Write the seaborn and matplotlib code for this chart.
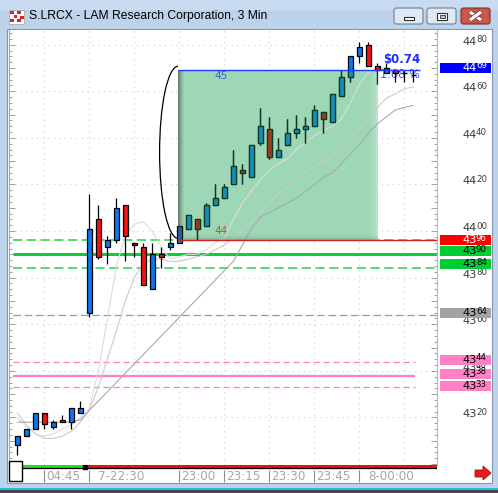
import numpy as np
import pandas as pd
import matplotlib
matplotlib.use("Agg")
import matplotlib.pyplot as plt
import matplotlib.patches as mpatches
import matplotlib.patheffects as pe
import matplotlib.transforms as mtransforms
from matplotlib.ticker import MultipleLocator
import seaborn as sns

# ---- S.LRCX 3 min bars ----
opens = [43.08, 43.12, 43.15, 43.22, 43.16, 43.18, 43.18, 43.22, 43.65, 44.05,
         43.93, 43.96, 44.11, 43.95, 43.93, 43.75, 43.90, 43.93, 43.95, 44.01,
         44.05, 44.02, 44.11, 44.14, 44.20, 44.26, 44.23, 44.38, 44.44, 44.32,
         44.37, 44.42, 44.44, 44.45, 44.51, 44.47, 44.58, 44.66, 44.75, 44.80,
         44.71, 44.68, 44.69, 44.68, 44.67]
highs = [43.12, 43.15, 43.22, 43.22, 43.19, 43.21, 43.24, 43.27, 44.16, 44.11,
         43.98, 44.14, 44.11, 43.95, 43.95, 43.95, 43.93, 43.99, 44.02, 44.07,
         44.05, 44.12, 44.20, 44.20, 44.35, 44.29, 44.37, 44.53, 44.49, 44.40,
         44.48, 44.50, 44.49, 44.54, 44.51, 44.59, 44.69, 44.75, 44.81, 44.81,
         44.72, 44.72, 44.69, 44.69, 44.69]
lows = [43.04, 43.12, 43.15, 43.15, 43.15, 43.18, 43.15, 43.22, 43.63, 43.88,
        43.86, 43.95, 43.87, 43.89, 43.77, 43.75, 43.84, 43.92, 43.95, 44.01,
        43.96, 44.02, 44.11, 44.14, 44.20, 44.20, 44.23, 44.37, 44.31, 44.32,
        44.37, 44.40, 44.38, 44.45, 44.42, 44.47, 44.58, 44.64, 44.72, 44.71,
        44.63, 44.68, 44.64, 44.64, 44.64]
closes = [43.12, 43.15, 43.22, 43.17, 43.18, 43.19, 43.24, 43.24, 44.01, 43.89,
          43.96, 44.10, 43.98, 43.94, 43.77, 43.90, 43.89, 43.95, 44.02, 44.07,
          44.01, 44.11, 44.14, 44.19, 44.28, 44.25, 44.37, 44.45, 44.32, 44.35,
          44.42, 44.44, 44.45, 44.52, 44.48, 44.59, 44.66, 44.75, 44.79, 44.71,
          44.69, 44.70, 44.68, 44.68, 44.67]

# moving averages as drawn on the chart
ma_slow = [43.18, 43.18, 43.18, 43.18, 43.18, 43.18, 43.18, 43.19, 43.23, 43.27,
           43.31, 43.35, 43.39, 43.43, 43.47, 43.51, 43.55, 43.59, 43.63, 43.67,
           43.71, 43.75, 43.79, 43.83, 43.87, 43.94, 44.01, 44.06, 44.08, 44.10,
           44.12, 44.14, 44.17, 44.20, 44.23, 44.25, 44.29, 44.33, 44.37, 44.42,
           44.46, 44.49, 44.52, 44.53, 44.54]
ma_mid = [43.22, 43.17, 43.13, 43.11, 43.11, 43.12, 43.14, 43.18, 43.23, 43.33,
          43.45, 43.57, 43.70, 43.80, 43.86, 43.88, 43.88, 43.87, 43.87, 43.88,
          43.89, 43.90, 43.92, 43.94, 43.97, 44.00, 44.04, 44.08, 44.12, 44.16,
          44.19, 44.22, 44.25, 44.28, 44.30, 44.32, 44.35, 44.39, 44.44, 44.49,
          44.53, 44.57, 44.59, 44.61, 44.62]
ma_fast = [43.20, 43.16, 43.13, 43.12, 43.13, 43.15, 43.17, 43.20, 43.24, 43.40,
           43.62, 43.85, 43.98, 44.03, 44.04, 44.00, 43.93, 43.88, 43.89, 43.90,
           43.90, 43.92, 43.95, 43.97, 44.05, 44.12, 44.17, 44.22, 44.26, 44.29,
           44.31, 44.35, 44.38, 44.41, 44.43, 44.45, 44.48, 44.55, 44.63, 44.68,
           44.70, 44.70, 44.69, 44.68, 44.67]

# time axis
time_ticks = [3, 8, 18, 23, 28, 33, 38]
time_labels = ["04:45", "7-22:30", "23:00", "23:15", "23:30", "23:45", "8-00:00"]
label_pad = [0.25, 1.0, 0.15, 0.15, 0.15, 0.15, 1.0]
session_break = 7.5

# horizontal levels
level_prices = [43.96, 43.90, 43.84, 43.64, 43.44, 43.38, 43.33]
level_colors = ["#2ad04a", "#10cc3a", "#2ad04a", "#9a9a9a", "#ff7fc0", "#ff7fc0", "#ff7fc0"]
level_styles = [(0, (6, 3)), "-", (0, (6, 3)), (0, (6, 3)), (0, (5, 3)), "-", (0, (5, 3))]
level_widths = [1.1, 2.2, 1.1, 0.9, 0.9, 1.6, 0.9]
level_end = [46.7, 46.7, 46.7, 46.7, 44.2, 44.2, 44.2]

# price-panel flags
flag_prices = [44.69, 43.96, 43.90, 43.84, 43.64, 43.44, 43.38, 43.33]
flag_colors = ["#0000ff", "#ff0000", "#00cc33", "#00cc33", "#a3a3a3", "#ff80c4", "#ff80c4", "#ff80c4"]
flag_text = ["white", "white", "black", "black", "black", "black", "black", "black"]
flag_nudge = [0.012, 0.0, 0.013, 0.017, 0.008, 0.008, 0.008, 0.005]
grid_prices = [44.80, 44.60, 44.40, 44.20, 44.00, 43.80, 43.60, 43.40, 43.20]

# range box (start bar, end bar, low, high)
box_x0, box_x1 = 17.86, 40.08
box_lo, box_hi = 43.96, 44.69

df = pd.DataFrame({"bar": np.arange(len(opens)), "open": opens, "high": highs,
                   "low": lows, "close": closes, "slow": ma_slow, "mid": ma_mid,
                   "fast": ma_fast})

sns.set_style("white")
plt.rcParams["font.family"] = ["DejaVu Sans"]

W, H = 498, 493
PX_X = 1 / 9.0       # one pixel in bar units
PX_Y = 1 / 233.0     # one pixel in price units
fig = plt.figure(figsize=(W / 100, H / 100), dpi=100)


def add_px_axes(x0, y0, x1, y1, **kw):
    return fig.add_axes([x0 / W, 1 - y1 / H, (x1 - x0) / W, (y1 - y0) / H], **kw)


# -------- window chrome --------
bg = add_px_axes(0, 0, W, H)
bg.set_xlim(0, W)
bg.set_ylim(H, 0)
bg.axis("off")
R = mpatches.Rectangle
bg.add_patch(R((0, 0), W, H, color="#bdd3eb", lw=0))
bg.add_patch(R((0, 0), W, 10, color="#c8dbf0", lw=0))
bg.add_patch(R((7, 29), 485, 454, facecolor="white", edgecolor="#8496ad", lw=0.8))
bg.add_patch(R((0, 488), W, 2, color="#2bb7dc", lw=0))
bg.add_patch(R((0, 490), W, 3, color="#474747", lw=0))
# icon
bg.add_patch(R((9, 10), 15, 14, facecolor="white", edgecolor="#a0a0a0", lw=0.5))
for ix, iy in [(10, 11), (17, 11), (13.5, 15), (20, 15.5), (10, 19), (17, 19)]:
    bg.add_patch(R((ix, iy), 3.6, 3.4, color="#d42828", lw=0))
bg.text(29, 16, "S.LRCX - LAM Research Corporation, 3 Min", fontsize=8.7,
        family="Liberation Sans", color="black", va="center", ha="left")
# caption buttons
for x0, face, edge in [(394, "#dfe8f5", "#6f7f96"), (427, "#dfe8f5", "#6f7f96"),
                       (461, "#cd5649", "#7d2b24")]:
    bg.add_patch(mpatches.FancyBboxPatch((x0, 8), 29, 16,
                                         boxstyle="round,pad=0,rounding_size=2.5",
                                         facecolor=face, edgecolor=edge, lw=0.8))
bg.add_patch(R((404, 16.5), 10, 3, facecolor="white", edgecolor="#303030", lw=0.8))
bg.add_patch(R((437, 12.5), 10, 7, facecolor="white", edgecolor="#303030", lw=0.8))
bg.add_patch(R((439.5, 14.5), 5, 3, facecolor="#b9c6d8", edgecolor="#303030", lw=0.6))
for xs, ys in [([470, 481], [12, 20]), ([470, 481], [20, 12])]:
    bg.plot(xs, ys, color="white", lw=2.4, solid_capstyle="butt",
            path_effects=[pe.Stroke(linewidth=3.4, foreground="#6a2019"), pe.Normal()])

# -------- main price chart --------
ax = add_px_axes(9, 30, 437, 465)
ax_t = add_px_axes(9, 465, 437, 483, sharex=ax)
ax_r = add_px_axes(437, 30, 491, 465, sharey=ax)

ax.set_xlim(-0.92, 46.63)
ax.set_ylim(42.996, 44.863)
ax.set_facecolor("white")
for side in ["top", "bottom"]:
    ax.spines[side].set_visible(False)
for side in ["left", "right"]:
    ax.spines[side].set_color("#a8a8a8")
    ax.spines[side].set_linewidth(0.8)
ax.yaxis.set_major_locator(MultipleLocator(0.10))
ax.yaxis.set_minor_locator(MultipleLocator(0.025))
ax.tick_params(which="both", direction="in", left=True, right=True, bottom=False,
               labelleft=False, labelbottom=False, color="#a0a0a0", width=0.7)
ax.tick_params(which="major", length=4)
ax.tick_params(which="minor", length=2)
ax.set_xticks([])

# dotted grid
for p in grid_prices:
    ax.axhline(p, color="#cfcfcf", lw=0.8, ls=(0, (1, 4)), zorder=0.5)
for t in range(3, 45, 5):
    ax.axvline(t, color="#cfcfcf", lw=0.8, ls=(0, (1, 4)), zorder=0.5)

# support / resistance levels
for p, c, ls, lw, x1 in zip(level_prices, level_colors, level_styles, level_widths, level_end):
    ax.hlines(p, -0.45, x1, colors=c, linestyles=ls, lw=lw, zorder=1.5)

# range box
box = mpatches.Rectangle((box_x0, box_lo), box_x1 - box_x0, box_hi - box_lo,
                         facecolor="#9ed7b5", edgecolor="none", zorder=2)
ax.add_patch(box)
for i, a in enumerate([0.30, 0.18, 0.10, 0.05]):
    ax.add_patch(mpatches.Rectangle((box_x1 - (i + 1) * 2 * PX_X, box_lo), 2 * PX_X,
                                    box_hi - box_lo, color="white", alpha=a, lw=0, zorder=2.1))

# moving averages
sns.lineplot(data=df, x="bar", y="fast", ax=ax, color="#dcdcdc", lw=0.8, zorder=2.5)
sns.lineplot(data=df, x="bar", y="mid", ax=ax, color="#cbcbcb", lw=0.8, zorder=2.5)
sns.lineplot(data=df, x="bar", y="slow", ax=ax, color="#a9a9a9", lw=0.8, zorder=2.6)

ax.text(44.75, 44.672, "1.68 %", color="#4a5cff", fontsize=8.3,
        ha="right", va="center", zorder=2.8)

# candles
up = df["close"] >= df["open"]
body_lo = np.minimum(df["open"], df["close"])
body_h = (df["close"] - df["open"]).abs()


def draw_candles(up_col, dn_col, edge, z, clip=None):
    wicks = ax.vlines(df["bar"], df["low"], df["high"], colors=edge, lw=0.9, zorder=z)
    bars = ax.bar(df["bar"], body_h, bottom=body_lo, width=0.6,
                  color=np.where(up, up_col, dn_col), edgecolor=edge, linewidth=0.9,
                  zorder=z + 0.1)
    if clip is not None:
        wicks.set_clip_path(clip)
        for b in bars:
            b.set_clip_path(clip)


draw_candles("#0a78f0", "#f01414", "#000000", 3)
clip = mpatches.Rectangle((box_x0 + 6 * PX_X, box_lo), box_x1 - box_x0 - 6 * PX_X,
                          box_hi - box_lo, transform=ax.transData)
draw_candles("#168db5", "#9a3c1c", "#0c3a26", 4, clip=clip)

# box shadow (left edge and bottom)
for i, a in enumerate([0.55, 0.45, 0.34, 0.24, 0.14, 0.06]):
    ax.add_patch(mpatches.Rectangle((box_x0 + i * PX_X, box_lo), PX_X, box_hi - box_lo,
                                    color="#3c3c3c", alpha=a, lw=0, zorder=5))
for j, a in enumerate([0.22, 0.15, 0.10, 0.06, 0.03]):
    ax.add_patch(mpatches.Rectangle((box_x0 + 6 * PX_X, box_lo + j * PX_Y),
                                    box_x1 - box_x0 - 6 * PX_X, PX_Y,
                                    color="#3c3c3c", alpha=a, lw=0, zorder=5))

ax.hlines(box_hi, box_x0, 44.75, colors="#1f3cff", lw=1.0, zorder=5.5)
ax.hlines(box_lo, box_x0, 46.7, colors="#d42020", lw=1.0, zorder=5.5)
ax.add_patch(mpatches.Arc((box_x0, (box_lo + box_hi) / 2 + 3 * PX_Y), 4.1,
                          box_hi - box_lo + 2 * PX_Y, theta1=90, theta2=270,
                          color="black", lw=0.9, zorder=5.5))

ax.text(22.6, box_hi - 6 * PX_Y, "45", color="#3d5ccc", fontsize=7.5,
        ha="center", va="center", zorder=6)
ax.text(22.6, box_lo + 9 * PX_Y, "44", color="#c0542c", fontsize=7.5,
        ha="center", va="center", zorder=6)
ax.text(44.75, 44.738, "$0.74", color="#1f2dff", fontsize=8.5, fontweight="bold",
        ha="right", va="center", zorder=6)

# -------- price panel --------
ax_r.set_facecolor("white")
for side in ["top", "right", "bottom"]:
    ax_r.spines[side].set_visible(False)
ax_r.spines["left"].set_color("#b8b8b8")
ax_r.tick_params(which="both", left=False, right=False, bottom=False,
                 labelleft=False, labelbottom=False)
ax_r.set_xticks([])
ax_r.set_xlim(0, 1)
blend = mtransforms.blended_transform_factory(ax_r.transAxes, ax_r.transData)


def price_label(y, p, color, z):
    # "44" then the cents raised and smaller, like the platform's price scale
    s = f"{p:.2f}"
    ax_r.text(0.735, y, s[:2], transform=blend, ha="right", va="center",
              fontsize=8.2, color=color, zorder=z)
    ax_r.text(0.72, y + 2 * PX_Y, s[3:], transform=blend, ha="left", va="center",
              fontsize=6.2, color=color, zorder=z)


for p in grid_prices:
    price_label(p + 3 * PX_Y, p, "#3c3c3c", 1)
for p, c, tc, nd in zip(flag_prices, flag_colors, flag_text, flag_nudge):
    ax_r.add_patch(mpatches.Rectangle((0.05, p + nd - 5 * PX_Y), 0.95, 10 * PX_Y,
                                      transform=blend, color=c, lw=0, zorder=2))
    price_label(p + nd, p, tc, 3)

# -------- time axis --------
ax_t.set_ylim(18, 0)
ax_t.axis("off")
ax_t.hlines(1.3, -0.92, session_break, colors="#1ee01e", lw=2.3)
ax_t.hlines(1.3, session_break, 46.63, colors="#ee1010", lw=2.3)
ax_t.hlines(3.3, -0.92, 46.63, colors="black", lw=0.9)
ax_t.plot([session_break], [1.6], marker="s", ms=2.5, color="black")
ax_t.vlines(time_ticks, 5, 17, colors="#8c8c8c", lw=0.8)
for t, lab, pad in zip(time_ticks, time_labels, label_pad):
    ax_t.text(t + pad, 11.2, lab, ha="left", va="center", fontsize=8.6, color="#a6a6a6")

# -------- overlay bits --------
fg = add_px_axes(0, 0, W, H)
fg.set_xlim(0, W)
fg.set_ylim(H, 0)
fg.axis("off")
fg.patch.set_alpha(0)
fg.add_patch(R((9, 461), 13, 20, facecolor="white", edgecolor="black", lw=1.0))
fg.add_patch(mpatches.Polygon([(475, 470), (483, 470), (483, 466), (491, 473),
                               (483, 480), (483, 477), (475, 477)],
                              closed=True, facecolor="#e51c1c", edgecolor="#a01010", lw=0.6))

fig.savefig("out.png", dpi=100)
